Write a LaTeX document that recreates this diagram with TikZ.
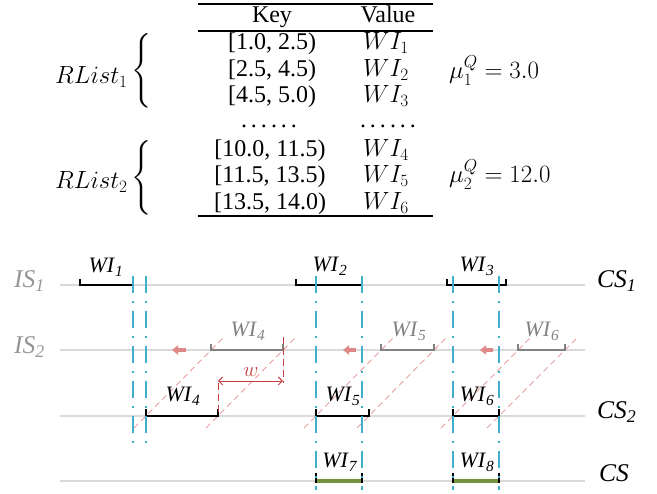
\documentclass[tikz,border=0pt]{standalone}
\usepackage[no-math]{fontspec}
\usepackage{exscale}
\setmainfont{Liberation Serif}
\usetikzlibrary{arrows.meta}
\definecolor{cyanl}{RGB}{62,176,204}
\definecolor{greenl}{RGB}{118,146,60}
\definecolor{salmon}{RGB}{222,136,136}
\definecolor{diagred}{RGB}{232,160,160}
\definecolor{dimred}{RGB}{200,62,62}
\definecolor{basegray}{RGB}{218,218,218}
\definecolor{wigray}{RGB}{130,130,130}
\definecolor{labgray}{RGB}{150,150,150}
\newcommand{\wil}[1]{\textit{WI}\textsubscript{\textit{#1}}}
\newcommand{\sixdots}{.\hskip4pt.\hskip4pt.\hskip4pt.\hskip4pt.\hskip4pt.}
\begin{document}
\begin{tikzpicture}[x=1pt,y=-1pt,
  tab/.style={inner sep=0pt,anchor=base,font=\fontsize{24}{28}\selectfont},
  biglab/.style={inner sep=0pt,anchor=base west,font=\fontsize{25.5}{30}\selectfont},
  wilab/.style={inner sep=0pt,anchor=base,font=\fontsize{22}{26}\selectfont},
  baseline/.style={line width=2pt,draw=basegray},
  interval/.style={line width=2pt,draw=black},
  ginterval/.style={line width=2pt,draw=wigray},
  greenbar/.style={line width=3.2pt,draw=greenl},
  cyanline/.style={line width=2pt,draw=cyanl,dash pattern=on 17pt off 8pt on 2pt off 8pt},
  diag/.style={line width=0.9pt,draw=diagred,dash pattern=on 6pt off 4pt},
  dimline/.style={line width=0.9pt,draw=dimred,dash pattern=on 7pt off 4pt},
  shift arrow/.style={line width=4pt,draw=salmon,-{Triangle[length=6pt,width=9pt]}},
]
\useasboundingbox (0,0) rectangle (657,494);

% ---------------- table ----------------
\draw[line width=1.6pt] (198,4) -- (433,4);
\draw[line width=1.2pt] (198,31) -- (433,31);
\draw[line width=1.6pt] (198,216) -- (433,216);
\node[tab] (hk) at (272,23) {Key};
\node[tab] (hv) at (388,23) {Value};
\node[tab] (k1) at (272,50) {[1.0, 2.5)};
\node[tab] (k2) at (272,77) {[2.5, 4.5)};
\node[tab] (k3) at (272,103) {[4.5, 5.0)};
\node[tab] (kd) at (269,128) {\sixdots};
\node[tab] (k4) at (270,157) {[10.0, 11.5)};
\node[tab] (k5) at (270,183) {[11.5, 13.5)};
\node[tab] (k6) at (270,210) {[13.5, 14.0)};
\node[tab] (v1) at (386,50) {$WI_1$};
\node[tab] (v2) at (386,77) {$WI_2$};
\node[tab] (v3) at (386,103) {$WI_3$};
\node[tab] (vd) at (388,128) {\sixdots};
\node[tab] (v4) at (386,157) {$WI_4$};
\node[tab] (v5) at (386,183) {$WI_5$};
\node[tab] (v6) at (386,210) {$WI_6$};
\node[tab,anchor=base west] (r1) at (55,84) {$RList_1$};
\node[tab,anchor=base west] (r2) at (55,189) {$RList_2$};
\node[tab,anchor=center] (b1) at (142,71) {$\left\{\vrule height 30pt depth 30pt width 0pt\right.$};
\node[tab,anchor=center] (b2) at (142,178) {$\left\{\vrule height 30pt depth 30pt width 0pt\right.$};
\node[tab,anchor=base west] (m1) at (449,79) {$\mu_1^Q = 3.0$};
\node[tab,anchor=base west] (m2) at (449,183) {$\mu_2^Q = 12.0$};

% ---------------- streams ----------------
\coordinate (is1a) at (60,285);  \coordinate (is1b) at (585,285);
\coordinate (is2a) at (60,350);  \coordinate (is2b) at (585,350);
\coordinate (cs2a) at (60,416);  \coordinate (cs2b) at (585,416);
\coordinate (csa)  at (60,481);  \coordinate (csb)  at (585,481);
\draw[baseline] (is1a) -- (is1b);
\draw[baseline] (is2a) -- (is2b);
\draw[baseline] (cs2a) -- (cs2b);
\draw[baseline] (csa) -- (csb);

\node[biglab,text=labgray] (lis1) at (14,288) {\textit{IS}\textsubscript{\textit{1}}};
\node[biglab,text=labgray] (lis2) at (14,354) {\textit{IS}\textsubscript{\textit{2}}};
\node[biglab] (lcs1) at (597,288) {\textit{CS}\textsubscript{\textit{1}}};
\node[biglab] (lcs2) at (597,419) {\textit{CS}\textsubscript{\textit{2}}};
\node[biglab] (lcs) at (599,482) {\textit{CS}};

% diagonal shift guides
\foreach \bx/\gx in {146/211,218/283,316/381,369/434,453/518,499/565}{
  \draw[diag] (\bx-12,428) -- (\gx+14,336);
}

% shift arrows
\foreach \xa/\xb in {186/172,356/343,493/480}{
  \draw[shift arrow] (\xa,350) -- (\xb,350);
}

% intervals IS1
\draw[interval] (80,279) -- (80,285) -- (133,285) -- (133,279);
\draw[interval] (296,279) -- (296,285) -- (362,285) -- (362,279);
\draw[interval] (447,279) -- (447,285) -- (506,285) -- (506,279);
% intervals IS2 (gray)
\draw[ginterval] (211,344) -- (211,350) -- (283,350) -- (283,344);
\draw[ginterval] (381,344) -- (381,350) -- (434,350) -- (434,344);
\draw[ginterval] (518,344) -- (518,350) -- (565,350) -- (565,344);
% intervals CS2
\draw[interval] (146,409) -- (146,416) -- (218,416) -- (218,409);
\draw[interval] (316,409) -- (316,416) -- (369,416) -- (369,409);
\draw[interval] (453,409) -- (453,416) -- (499,416) -- (499,409);
% intervals CS
\draw[greenbar] (316,481) -- (362,481);
\draw[greenbar] (453,481) -- (499,481);
\draw[interval] (316,473) -- (316,482.6);
\draw[interval] (362,473) -- (362,482.6);
\draw[interval] (453,473) -- (453,482.6);
\draw[interval] (499,473) -- (499,482.6);

% labels
\node[wilab] (w1) at (106,273) {\wil{1}};
\node[wilab] (w2) at (330,272) {\wil{2}};
\node[wilab] (w3) at (477,272) {\wil{3}};
\node[wilab,text=wigray] (g4) at (248,337) {\wil{4}};
\node[wilab,text=wigray] (g5) at (409,337) {\wil{5}};
\node[wilab,text=wigray] (g6) at (542,337) {\wil{6}};
\node[wilab] (w4) at (183,402) {\wil{4}};
\node[wilab] (w5) at (343,402) {\wil{5}};
\node[wilab] (w6) at (477,402) {\wil{6}};
\node[wilab] (w7) at (340,468) {\wil{7}};
\node[wilab] (w8) at (477,468) {\wil{8}};

% window width w
\coordinate (dl) at (218,381);
\coordinate (dr) at (283,381);
\draw[dimline] (218,412) -- (218,380);
\draw[dimline] (283,337) -- (283,383);
\draw[line width=0.9pt,dimred,{Straight Barb[length=4pt,width=8pt]}-{Straight Barb[length=4pt,width=8pt]}] (dl) -- (dr);
\node[wilab,text=dimred] (wl) at (251,377) {$w$};

% cyan boundaries
\foreach \x/\ya/\yb in {133/276/450,146/276/450,316/276/490,362/276/490,453/276/490,499/276/490}{
  \draw[cyanline] (\x,\ya) -- (\x,\yb);
}
\end{tikzpicture}
\end{document}
